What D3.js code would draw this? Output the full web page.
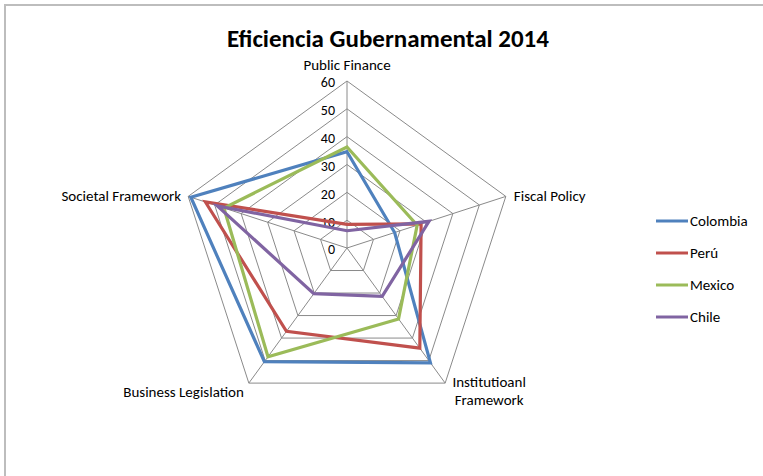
<!DOCTYPE html>
<head>
<meta charset="utf-8">
<title>Eficiencia Gubernamental 2014</title>
<style>
body {
  margin: 0;
  background: #fff;
}
text {
  font-family: Carlito, "Open Sans", sans-serif;
  fill: #000;
}
.grid {
  fill: none;
  stroke: #8a8a8a;
  stroke-width: 1;
}
.spoke {
  stroke: #8a8a8a;
  stroke-width: 1;
}
.series {
  fill: none;
  stroke-width: 3.2;
  stroke-linejoin: miter;
}
</style>
<script src="https://cdn.jsdelivr.net/npm/d3@7"></script>
</head>
<body>
<script>
"use strict";
var width = 763, height = 476;

// axes, clockwise from the top
var axes = ["Public Finance", "Fiscal Policy", "Institutioanl Framework",
            "Business Legislation", "Societal Framework"];
var countries = ["Colombia", "Perú", "Mexico", "Chile"];
var colombia = [34.6, 18, 51, 50.5, 59];
var peru     = [8.5, 28, 44.5, 37, 53.5];
var mexico   = [36.3, 26.5, 31.5, 48.3, 46.5];
var chile    = [6.2, 31, 21.5, 20.3, 49];
var ticks = [0, 10, 20, 30, 40, 50, 60];
var colors = ["#4f81bd", "#c0504d", "#9bbb59", "#8064a2"];

var series = [colombia, peru, mexico, chile].map(function(v, i) {
  return {name: countries[i], values: v};
});

var cx = 347, cy = 248, R = 167;

var r = d3.scaleLinear().domain([0, 60]).range([0, R]);
var angle = d3.scalePoint().domain(axes).range([0, 2 * Math.PI * 4 / 5]);
var color = d3.scaleOrdinal().domain(countries).range(colors);

function pt(a, v) {
  var t = angle(a) - Math.PI / 2;
  return [cx + r(v) * Math.cos(t), cy + r(v) * Math.sin(t)];
}

var svg = d3.select("body").append("svg")
    .attr("width", width)
    .attr("height", height);

// chart frame
svg.append("path")
    .attr("d", "M5,477V5H764")
    .attr("fill", "none")
    .attr("stroke", "#bdbdbd")
    .attr("stroke-width", 2);

svg.append("text")
    .attr("x", 388)
    .attr("y", 47)
    .attr("text-anchor", "middle")
    .style("font-size", "25px")
    .style("font-weight", "bold")
    .text("Eficiencia Gubernamental 2014");

var g = svg.append("g");

// rings
g.selectAll(".grid")
    .data(ticks.slice(1))
  .enter().append("polygon")
    .attr("class", "grid")
    .attr("points", function(t) {
      return axes.map(function(a) { return pt(a, t).join(","); }).join(" ");
    });

// spokes
g.selectAll(".spoke")
    .data(axes)
  .enter().append("line")
    .attr("class", "spoke")
    .attr("x1", cx).attr("y1", cy)
    .attr("x2", function(a) { return pt(a, 60)[0]; })
    .attr("y2", function(a) { return pt(a, 60)[1]; });

// tick labels
g.selectAll(".tick")
    .data(ticks)
  .enter().append("text")
    .attr("class", "tick")
    .attr("x", cx - 12)
    .attr("y", function(t) { return cy - r(t) + 1.5; })
    .attr("dy", "0.35em")
    .attr("text-anchor", "end")
    .style("font-size", "14px")
    .text(function(t) { return t; });

// axis labels
var labelPos = {
  "Public Finance": {dx: 0, dy: -11, anchor: "middle"},
  "Fiscal Policy": {dx: 8, dy: 5, anchor: "start"},
  "Institutioanl Framework": {dx: 44, dy: 4, anchor: "middle"},
  "Business Legislation": {dx: -5, dy: 14, anchor: "end"},
  "Societal Framework": {dx: -7, dy: 5, anchor: "end"}
};

g.selectAll(".axis-label")
    .data(axes)
  .enter().append("text")
    .attr("class", "axis-label")
    .attr("text-anchor", function(a) { return labelPos[a].anchor; })
    .style("font-size", "15px")
    .each(function(a) {
      var p = pt(a, 60), o = labelPos[a];
      var words = a === "Institutioanl Framework" ? ["Institutioanl", "Framework"] : [a];
      d3.select(this).selectAll("tspan")
          .data(words)
        .enter().append("tspan")
          .attr("x", p[0] + o.dx)
          .attr("y", function(w, i) { return p[1] + o.dy + i * 18; })
          .text(function(w) { return w; });
    });

// series
var line = d3.line()
    .x(function(d) { return pt(d.axis, d.value)[0]; })
    .y(function(d) { return pt(d.axis, d.value)[1]; })
    .curve(d3.curveLinearClosed);

g.selectAll(".series")
    .data(series)
  .enter().append("path")
    .attr("class", "series")
    .attr("stroke", function(d) { return color(d.name); })
    .attr("d", function(d) {
      return line(d.values.map(function(v, i) { return {axis: axes[i], value: v}; }));
    });

// legend
var legend = svg.selectAll(".legend")
    .data(countries)
  .enter().append("g")
    .attr("class", "legend")
    .attr("transform", function(d, i) { return "translate(656," + (221 + i * 32) + ")"; });

legend.append("line")
    .attr("x1", 0).attr("x2", 32)
    .attr("stroke", function(d) { return color(d); })
    .attr("stroke-width", 3);

legend.append("text")
    .attr("x", 34)
    .attr("dy", "0.35em")
    .style("font-size", "15px")
    .text(function(d) { return d; });
</script>
</body>
